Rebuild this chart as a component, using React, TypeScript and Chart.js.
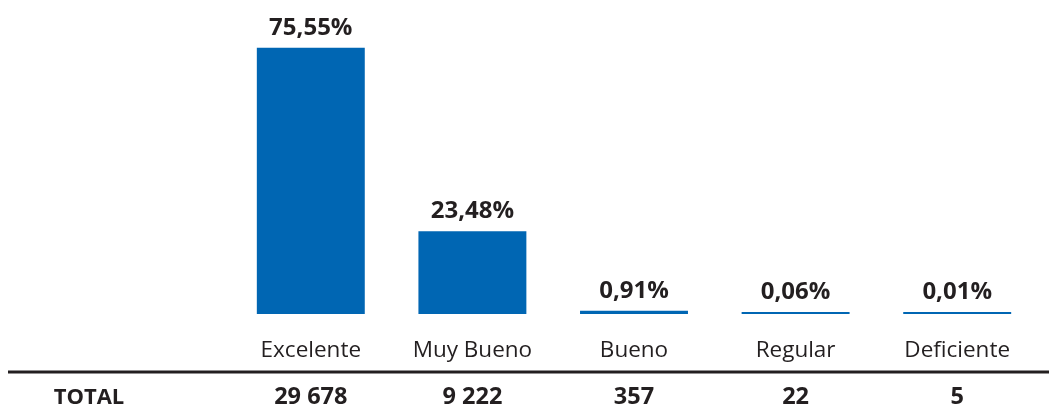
import React, { useEffect, useRef } from "react";
import { Chart, registerables } from "chart.js";

Chart.register(...registerables);

const categories = ["Excelente", "Muy Bueno", "Bueno", "Regular", "Deficiente"];
const percentValues = [75.55, 23.48, 0.91, 0.06, 0.01];
const percentLabels = ["75,55%", "23,48%", "0,91%", "0,06%", "0,01%"];
const totalLabel = "TOTAL";
const totals = ["29 678", "9 222", "357", "22", "5"];

const FONT = "'Open Sans', 'Noto Sans', sans-serif";
const TEXT = "#231f20";
const BAR = "#0066b3";

const annotationPlugin = {
  id: "tableText",
  afterDatasetsDraw(chart: any) {
    const { ctx } = chart;
    const meta = chart.getDatasetMeta(0);
    const xScale = chart.scales.x;
    ctx.save();
    ctx.fillStyle = TEXT;
    ctx.textAlign = "center";
    ctx.textBaseline = "alphabetic";
    // value labels
    ctx.font = `bold 24px ${FONT}`;
    meta.data.forEach((bar: any, i: number) => {
      ctx.fillText(percentLabels[i], bar.x, bar.y - 13);
    });
    // category labels
    ctx.font = `22.5px ${FONT}`;
    categories.forEach((c, i) => {
      ctx.fillText(c, xScale.getPixelForValue(i), 357);
    });
    // separator line
    ctx.strokeStyle = TEXT;
    ctx.lineWidth = 3;
    ctx.beginPath();
    ctx.moveTo(8, 372);
    ctx.lineTo(chart.width, 372);
    ctx.stroke();
    // totals row
    ctx.font = `bold 22px ${FONT}`;
    ctx.fillText(totalLabel, 89, 404);
    ctx.font = `bold 23.5px ${FONT}`;
    totals.forEach((t, i) => {
      ctx.fillText(t, xScale.getPixelForValue(i), 404);
    });
    ctx.restore();
  },
};

export default function App() {
  const ref = useRef<HTMLCanvasElement>(null);
  useEffect(() => {
    if (!ref.current) return;
    const chart = new Chart(ref.current, {
      type: "bar",
      data: {
        labels: categories,
        datasets: [
          {
            data: percentValues,
            backgroundColor: BAR,
            borderWidth: 0,
            categoryPercentage: 1,
            barPercentage: 0.668,
            minBarLength: 2,
          },
        ],
      },
      options: {
        animation: false,
        responsive: false,
        maintainAspectRatio: false,
        devicePixelRatio: 1,
        layout: { padding: { left: 230, right: 11, top: 32, bottom: 93 } },
        plugins: { legend: { display: false }, tooltip: { enabled: false } },
        scales: {
          x: { display: false },
          y: { display: false, min: 0, max: 80 },
        },
      },
      plugins: [annotationPlugin],
    });
    return () => chart.destroy();
  }, []);
  return (
    <div style={{ position: "fixed", left: 0, top: 0, width: 1049, height: 407, background: "#fff" }}>
      <canvas ref={ref} width={1049} height={407} style={{ width: 1049, height: 407 }} />
    </div>
  );
}
